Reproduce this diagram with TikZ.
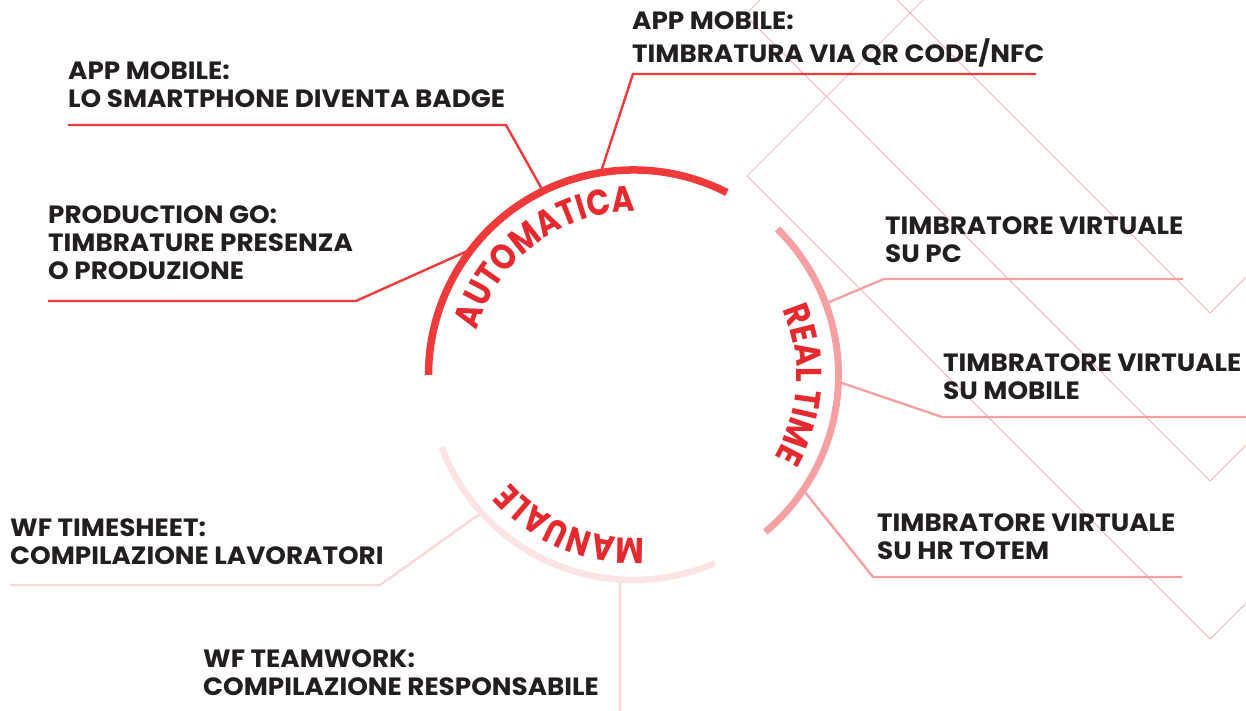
\documentclass[tikz,border=0pt]{standalone}
\usepackage{fontspec}
\setmainfont{Poppins}
\newfontfamily\labfam{Poppins}[FakeStretch=1.05]
\newfontfamily\curvefam{Poppins}[FakeStretch=0.86]
\usetikzlibrary{calc,decorations.text}
\definecolor{autored}{HTML}{EE3A3A}
\definecolor{txtred}{HTML}{E52A2F}
\definecolor{rtpink}{HTML}{F5A0A2}
\definecolor{manpink}{HTML}{FCE3E4}
\definecolor{manline}{HTML}{FAD8D9}
\definecolor{diagcol}{HTML}{F4A3A3}
\definecolor{ink}{HTML}{231F20}
\newcommand{\lbltext}[1]{\begin{tabular}[t]{@{}l@{}}#1\end{tabular}}
\newcommand{\curvefont}{\curvefam\fontsize{36}{36}\selectfont\bfseries}
\begin{document}
\begin{tikzpicture}[x=1pt,y=1pt,
  lab/.style={anchor=base west, inner sep=0pt, text=ink, font=\labfam\fontsize{25}{28}\selectfont\bfseries},
  conn/.style={line width=2.4pt, line join=miter},
  diagline/.style={draw=diagcol, line width=0.7pt},
  ring/.style={line cap=butt}
]
\useasboundingbox (0,0) rectangle (1246,711);
\begin{scope}
\clip (0,0) rectangle (1246,711);
\draw[diagline] (1047,835) -- (747,535) -- (1210,72) -- (1410,272);
\draw[diagline] (845,796) -- (745,696) -- (1210,230) -- (1410,430);
\draw[diagline] (850,758) -- (1210,398) -- (1410,598);
\end{scope}

\coordinate (c) at (633.5,336);
% arc attachment points
\coordinate (a1) at ($(c)+(99.2:205)$);
\coordinate (a2) at ($(c)+(116.2:205)$);
\coordinate (a3) at ($(c)+(142.1:205)$);
\coordinate (r1) at ($(c)+(20.4:205)$);
\coordinate (r2) at ($(c)+(-1.9:205)$);
\coordinate (r3) at ($(c)+(-34.1:205)$);
\coordinate (m1) at ($(c)+(222.2:205)$);
\coordinate (m2) at ($(c)+(266.2:205)$);
% underline points
\coordinate (u1a) at (633,637);  \coordinate (u1b) at (1036,637);
\coordinate (u2a) at (506,586);  \coordinate (u2b) at (68,586);
\coordinate (u3a) at (356,410);  \coordinate (u3b) at (48,410);
\coordinate (u4a) at (884,432);  \coordinate (u4b) at (1183,432);
\coordinate (u5a) at (942,294);  \coordinate (u5b) at (1246,294);
\coordinate (u6a) at (873,134);  \coordinate (u6b) at (1182,134);
\coordinate (u7a) at (380,126);  \coordinate (u7b) at (10,126);
\coordinate (u8a) at (620,0);

% labels
\node[lab] (t1) at (632,681) {\lbltext{APP MOBILE:\\TIMBRATURA VIA QR CODE/NFC}};
\node[lab] (t2) at (68,631) {\lbltext{APP MOBILE:\\LO SMARTPHONE DIVENTA BADGE}};
\node[lab] (t3) at (48,487) {\lbltext{PRODUCTION GO:\\TIMBRATURE PRESENZA\\O PRODUZIONE}};
\node[lab] (t4) at (885,476) {\lbltext{TIMBRATORE VIRTUALE\\SU PC}};
\node[lab] (t5) at (943,339) {\lbltext{TIMBRATORE VIRTUALE\\SU MOBILE}};
\node[lab] (t6) at (877,179) {\lbltext{TIMBRATORE VIRTUALE\\SU HR TOTEM}};
\node[lab] (t7) at (10,174) {\lbltext{WF TIMESHEET:\\COMPILAZIONE LAVORATORI}};
\node[lab] (t8) at (203,43) {\lbltext{WF TEAMWORK:\\COMPILAZIONE RESPONSABILE}};

% connectors
\draw[conn, autored] (a1) -- (u1a) -- (u1b);
\draw[conn, autored] (a2) -- (u2a) -- (u2b);
\draw[conn, autored] (a3) -- (u3a) -- (u3b);
\draw[conn, rtpink] (r1) -- (u4a) -- (u4b);
\draw[conn, rtpink] (r2) -- (u5a) -- (u5b);
\draw[conn, rtpink] (r3) -- (u6a) -- (u6b);
\draw[conn, manline] (m1) -- (u7a) -- (u7b);
\draw[conn, manline] (m2) -- (u8a);

% rings
\draw[ring, autored, line width=7.5pt] ($(c)+(62.9:205)$) arc[start angle=62.9, end angle=180, radius=205];
\draw[ring, rtpink, line width=7pt] ($(c)+(-50:205)$) arc[start angle=-50, end angle=45.4, radius=205];
\draw[ring, manpink, line width=6.5pt] ($(c)+(200.5:205)$) arc[start angle=200.5, end angle=293.4, radius=205];

% curved titles
\path[decorate, decoration={text along path, text={|\curvefont|AUTOMATICA}, text align=center, text color=txtred}]
  ($(c)+(176.75:163)$) arc[start angle=176.75, end angle=76.75, radius=163];
\path[decorate, decoration={text along path, text={|\curvefont|REAL TIME}, text align=center, text color=txtred}]
  ($(c)+(46.75:163)$) arc[start angle=46.75, end angle=-53.25, radius=163];
\path[decorate, decoration={text along path, text={|\curvefont|MANUALE}, text align=center, text color=txtred}]
  ($(c)+(297.5:163)$) arc[start angle=297.5, end angle=197.5, radius=163];
\end{tikzpicture}
\end{document}
